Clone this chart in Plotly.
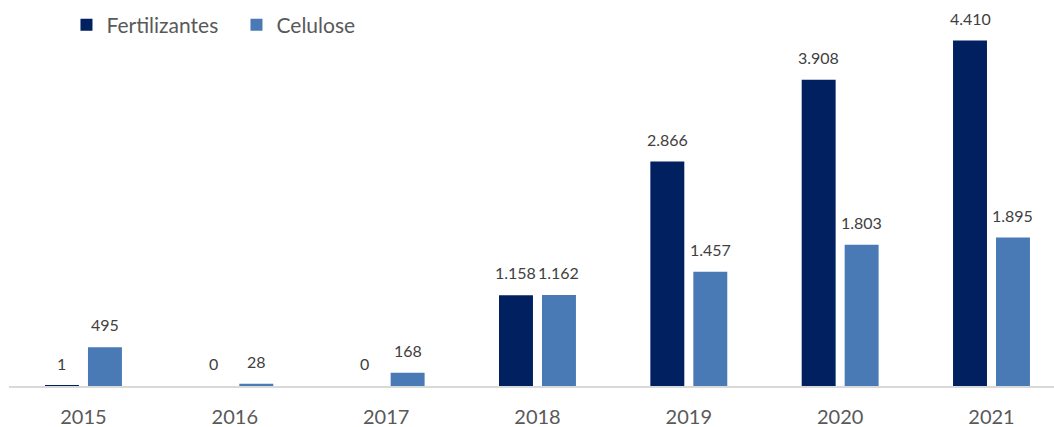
import plotly.graph_objects as go

# Annual volumes by product
years = ["2015", "2016", "2017", "2018", "2019", "2020", "2021"]
fertilizantes = [1, 0, 0, 1158, 2866, 3908, 4410]
celulose = [495, 28, 168, 1162, 1457, 1803, 1895]

NAVY = "#002060"
BLUE = "#4A7AB5"
FONT = "Lato, Calibri, Arial, sans-serif"

BARGAP = 0.432
BARGROUPGAP = 0.21
# half distance between the two bar centres inside a group, in category units
half_slot = (1 - BARGAP) / 4


def fmt(v):
    return f"{v:,}".replace(",", ".")


fig = go.Figure()
fig.add_trace(go.Bar(name="Fertilizantes", x=years, y=fertilizantes,
                     marker=dict(color=NAVY, line=dict(width=0))))
fig.add_trace(go.Bar(name="Celulose", x=years, y=celulose,
                     marker=dict(color=BLUE, line=dict(width=0))))

annotations = []
for i, (f, c) in enumerate(zip(fertilizantes, celulose)):
    for val, off in ((f, -half_slot), (c, half_slot)):
        annotations.append(dict(
            x=i + off, y=val, xref="x", yref="y",
            text=fmt(val), showarrow=False,
            xanchor="center", yanchor="bottom", yshift=11,
            font=dict(family=FONT, size=16, color="#404040"),
        ))

fig.update_layout(
    width=1054, height=427,
    margin=dict(l=9, r=0, t=10, b=41),
    plot_bgcolor="white", paper_bgcolor="white",
    barmode="group", bargap=BARGAP, bargroupgap=BARGROUPGAP,
    separators=",.",
    showlegend=True,
    legend=dict(
        orientation="h", x=0.055, y=0.96, xanchor="left", yanchor="middle",
        font=dict(family=FONT, size=21, color="#595959"),
        bgcolor="rgba(0,0,0,0)", entrywidth=125, traceorder="normal",
    ),
    xaxis=dict(
        type="category", range=[-0.492, 6.413], automargin=False,
        showline=True, linecolor="#D9D9D9", linewidth=1.5,
        showgrid=False, zeroline=False,
        ticks="outside", ticklen=12, tickcolor="rgba(0,0,0,0)",
        tickfont=dict(family=FONT, size=20, color="#595959"),
    ),
    yaxis=dict(
        range=[0, 4800], visible=False, showgrid=False, zeroline=False,
        automargin=False,
    ),
    annotations=annotations,
)

fig.write_html("out.html")
